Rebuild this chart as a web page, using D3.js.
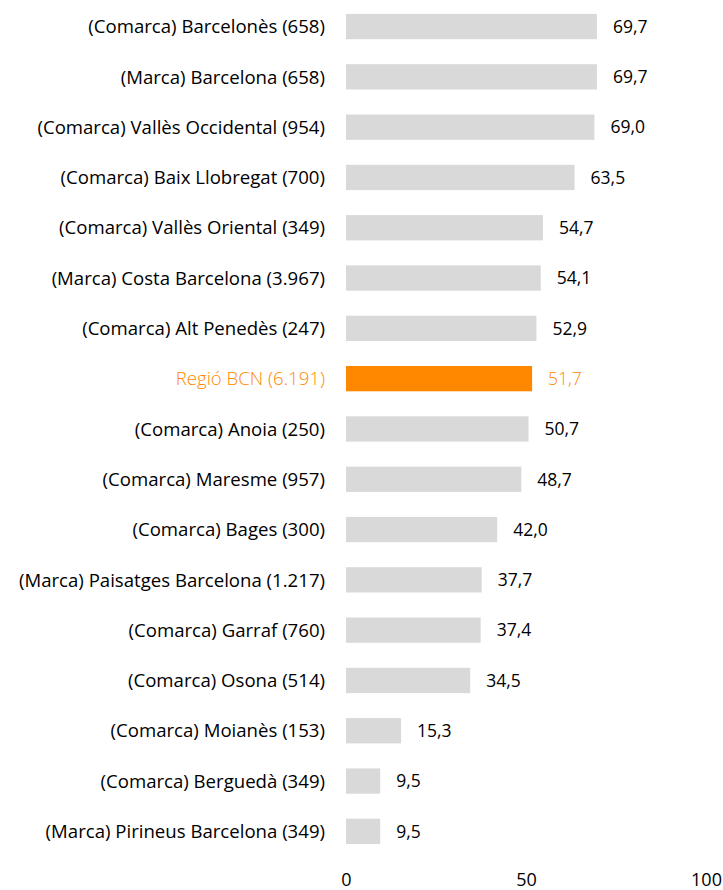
<!DOCTYPE html>
<html>
<head>
<meta charset="utf-8">
<script src="https://cdn.jsdelivr.net/npm/d3@7"></script>
<style>
  body { margin: 0; background: #fff; }
  svg text { font-family: "Open Sans", "Noto Sans", sans-serif; }
</style>
</head>
<body>
<div id="chart"></div>
<script>
// categories and values, top to bottom
var categories = [
	'(Comarca) Barcelonès (658)',
	'(Marca) Barcelona (658)',
	'(Comarca) Vallès Occidental (954)',
	'(Comarca) Baix Llobregat (700)',
	'(Comarca) Vallès Oriental (349)',
	'(Marca) Costa Barcelona (3.967)',
	'(Comarca) Alt Penedès (247)',
	'Regió BCN (6.191)',
	'(Comarca) Anoia (250)',
	'(Comarca) Maresme (957)',
	'(Comarca) Bages (300)',
	'(Marca) Paisatges Barcelona (1.217)',
	'(Comarca) Garraf (760)',
	'(Comarca) Osona (514)',
	'(Comarca) Moianès (153)',
	'(Comarca) Berguedà (349)',
	'(Marca) Pirineus Barcelona (349)'
];
var values = [69.7, 69.7, 69.0, 63.5, 54.7, 54.1, 52.9, 51.7, 50.7, 48.7, 42.0, 37.7, 37.4, 34.5, 15.3, 9.5, 9.5];
var highlight = 'Regió BCN (6.191)';
var xTicks = [0, 50, 100];

var width = 723, height = 890,
	pad = {top: 1.4, left: 346, right: 17},
	bandH = 50.3 * categories.length,
	grey = '#d9d9d9', orange = '#ff8800';

var svg = d3.select('#chart').append('svg')
	.attr('width', width).attr('height', height);

var x = d3.scaleLinear().domain([0, 100]).range([pad.left, width - pad.right]);
var y = d3.scaleBand().domain(categories)
	.range([pad.top, pad.top + bandH])
	.paddingInner(0.497).paddingOuter(0.2485);

var fmt = function (v) { return d3.format('.1f')(v).replace('.', ','); };

var rows = svg.selectAll('g.row')
	.data(categories.map(function (c, i) { return {name: c, value: values[i]}; }))
	.enter().append('g').attr('class', 'row');

rows.append('rect')
	.attr('x', x(0))
	.attr('y', function (d) { return y(d.name); })
	.attr('width', function (d) { return x(d.value) - x(0); })
	.attr('height', y.bandwidth())
	.attr('fill', function (d) { return d.name === highlight ? orange : grey; });

// category labels
rows.append('text')
	.attr('x', x(0) - 21)
	.attr('y', function (d) { return y(d.name) + y.bandwidth() / 2; })
	.attr('dy', '0.36em')
	.attr('text-anchor', 'end')
	.attr('font-size', 18.6)
	.attr('font-weight', function (d) { return d.name === highlight ? 300 : 400; })
	.attr('fill', function (d) { return d.name === highlight ? orange : '#000'; })
	.text(function (d) { return d.name; });

// value labels
rows.append('text')
	.attr('x', function (d) { return x(d.value) + 16; })
	.attr('y', function (d) { return y(d.name) + y.bandwidth() / 2; })
	.attr('dy', '0.36em')
	.attr('font-size', 17.5)
	.attr('font-weight', function (d) { return d.name === highlight ? 300 : 400; })
	.attr('fill', function (d) { return d.name === highlight ? orange : '#000'; })
	.text(function (d) { return fmt(d.value); });

// x axis, labels only
var xAxis = d3.axisBottom(x).tickValues(xTicks).tickSize(0).tickPadding(0);
var gx = svg.append('g').attr('transform', 'translate(0,' + 873 + ')').call(xAxis);
gx.select('.domain').remove();
gx.selectAll('text')
	.attr('font-size', 18)
	.attr('font-family', '"Open Sans", "Noto Sans", sans-serif')
	.attr('fill', '#000');
</script>
</body>
</html>
